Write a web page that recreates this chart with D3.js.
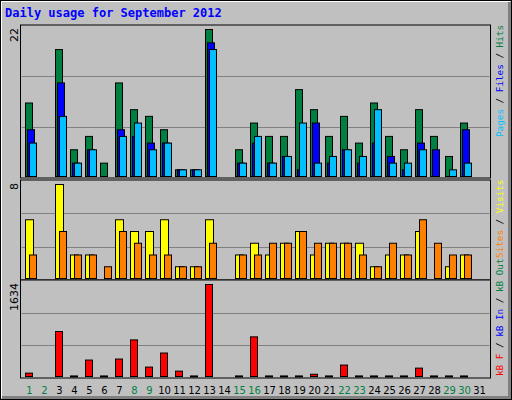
<!DOCTYPE html>
<html><head><meta charset="utf-8">
<script src="https://cdn.jsdelivr.net/npm/d3@7"></script>
<style>body{margin:0;background:#fff}</style></head>
<body><script>
const days = d3.range(1,32);
const weekend = [1,2,8,9,15,16,22,23,29,30];
const hits  = [11,0,19,4,6,2,14,10,9,7,1,1,22,0,4,8,6,6,13,10,6,9,5,11,6,4,10,6,3,8,0];
const files = [7,0,14,2,4,0,7,6,5,5,1,1,20,0,2,5,2,3,1,8,2,4,2,5,3,1,5,4,0,7,0];
const pages = [5,0,9,2,4,0,6,8,4,5,1,1,19,0,2,6,2,3,8,2,3,4,3,10,2,2,4,0,1,2,0];
const visits= [5,0,8,2,2,0,5,4,4,5,1,1,5,0,2,3,2,3,4,2,3,3,3,1,2,2,4,0,1,2,0];
const sites = [2,0,4,2,2,1,4,3,2,2,1,1,3,0,2,2,3,3,4,3,3,3,2,1,3,2,5,3,2,2,0];
const kbF   = [60,0,799,10,292,10,310,650,167,417,95,10,1634,0,10,704,10,10,10,40,10,203,10,10,10,10,149,10,10,10,0];
const maxTicks = ["22","8","1634"];

const W=512,H=400;
const svg=d3.select("body").append("svg").attr("width",W).attr("height",H);
svg.append("rect").attr("width",W).attr("height",H).attr("fill","#c0c0c0");
svg.append("rect").attr("x",0.5).attr("y",0.5).attr("width",W-1).attr("height",H-1).attr("fill","none").attr("stroke","#000");
svg.append("path").attr("d",`M1.5,${H-2}V1.5H${W-2}`).attr("fill","none").attr("stroke","#fff");
svg.append("path").attr("d",`M${W-2.5},2V${H-2.5}H2`).attr("fill","none").attr("stroke","#808080").attr("stroke-width",3);
svg.append("text").attr("x",5).attr("y",17).text("Daily usage for September 2012")
  .attr("font-family","DejaVu Sans Mono").attr("font-weight","bold").attr("font-size",12).attr("fill","#0000ff");

const L=20.5,R=490.5;
const x=d3.scaleLinear().domain([1,2]).range([25,40]);
const mono="DejaVu Sans Mono";

function panel(y0,y1,max,label,series,rlabels,ly){
  svg.append("rect").attr("x",L).attr("y",y0).attr("width",R-L).attr("height",y1-y0)
    .attr("fill","#c0c0c0").attr("stroke","#000").attr("stroke-width",1);
  const y=d3.scaleLinear().domain([0,max]).range([y1-2,y0+4]);
  [1,2].forEach(i=>{const gy=Math.round(y1-(y1-y0)*i/3)+0.5;
    svg.append("line").attr("x1",L+1).attr("x2",R-1).attr("y1",gy).attr("y2",gy).attr("stroke","#808080").attr("stroke-width",1.2);});
  svg.append("text").attr("transform",`translate(18,${y0+3}) rotate(-90)`).attr("text-anchor","end")
    .attr("font-family","DejaVu Sans").attr("font-size",11).text(label);
  series.forEach(s=>{
    svg.append("g").selectAll("rect").data(days.filter((d,i)=>s.v[i]>0)).join("rect")
      .attr("x",d=>x(d)+s.off+0.5).attr("width",s.w)
      .attr("y",d=>y(s.v[d-1])+0.5).attr("height",d=>Math.max(1,y(0)-y(s.v[d-1])))
      .attr("fill",s.c).attr("stroke","#000").attr("stroke-width",1);
  });
  const t=svg.append("text").attr("transform",`translate(503,${ly}) rotate(-90)`)
    .attr("font-family",mono).attr("font-size",9.3);
  rlabels.forEach((r,i)=>{ if(i) t.append("tspan").attr("fill","#000").text(" / ");
    t.append("tspan").attr("fill",r[1]).text(r[0]);});
}
panel(25,178,22,maxTicks[0],[
  {v:hits,c:"#008040",off:0,w:7},{v:files,c:"#0000ff",off:2,w:7},{v:pages,c:"#00c0ff",off:4,w:7}],
  [["Pages","#00c0ff"],["Files","#0000ff"],["Hits","#008040"]],137);
panel(180,280,8,maxTicks[1],[
  {v:visits,c:"#ffff00",off:0,w:8},{v:sites,c:"#ff8000",off:4,w:7}],
  [["Sites","#ff8000"],["Visits","#ffff00"]],258);
panel(280,378,1634,maxTicks[2],[{v:kbF,c:"#ff0000",off:0,w:7}],
  [["kB F","#ff0000"],["kB In","#0000ff"],["kB Out","#008040"]],376);

svg.append("g").selectAll("text").data(days).join("text")
  .attr("x",d=>x(d)+4.5).attr("y",394).attr("text-anchor","middle")
  .attr("font-family","DejaVu Sans").attr("font-size",10)
  .attr("fill",d=>weekend.includes(d)?"#008040":"#000").text(d=>d);
</script></body></html>
